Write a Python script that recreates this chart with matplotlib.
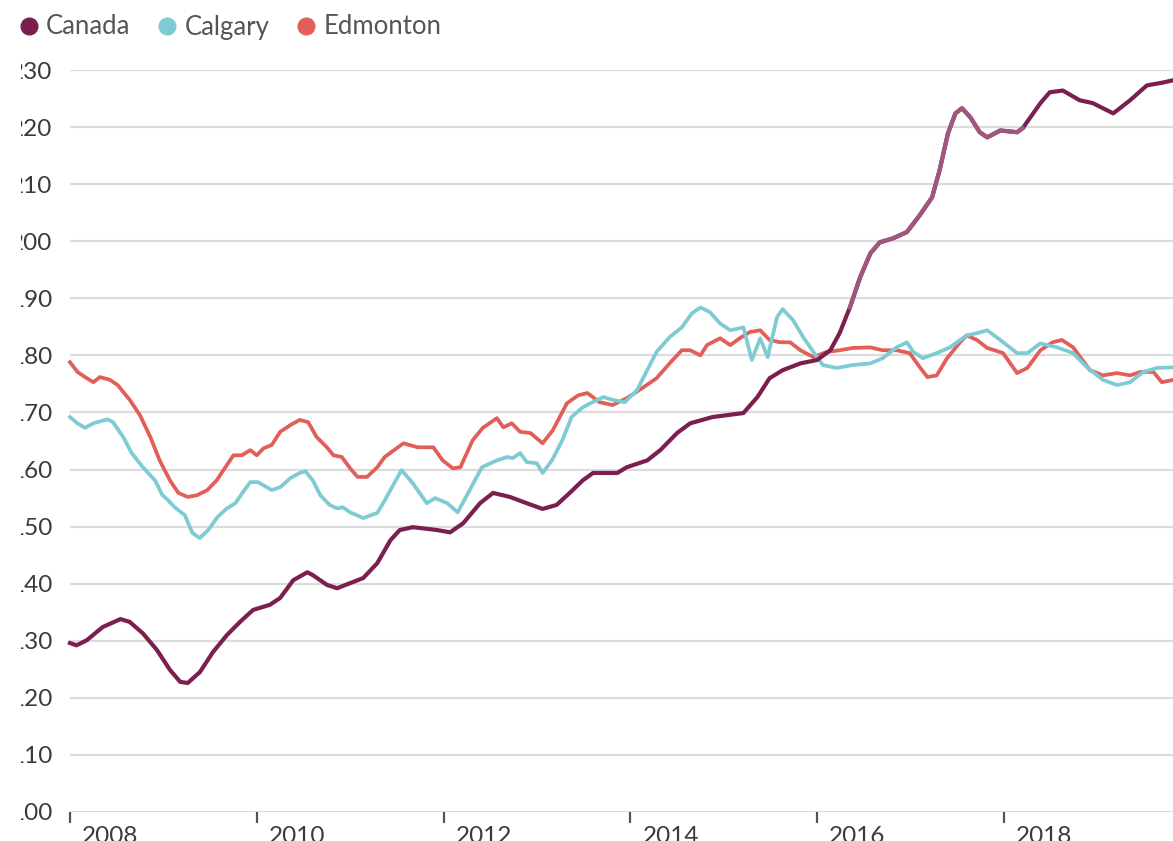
import numpy as np
import matplotlib
matplotlib.use("Agg")
import matplotlib.pyplot as plt
from matplotlib.lines import Line2D
from matplotlib.transforms import Bbox, ScaledTranslation

# (year, index)
canada = [(2008.00, 129.6), (2008.07, 129.2), (2008.18, 130.1), (2008.35, 132.4), (2008.54, 133.8),
          (2008.64, 133.3), (2008.78, 131.3), (2008.93, 128.4), (2009.07, 124.9), (2009.18, 122.8),
          (2009.26, 122.6), (2009.39, 124.5), (2009.53, 128.0), (2009.68, 131.0), (2009.82, 133.3),
          (2009.96, 135.4), (2010.14, 136.3), (2010.25, 137.5), (2010.39, 140.6), (2010.54, 142.0),
          (2010.60, 141.5), (2010.75, 139.8), (2010.86, 139.2), (2011.00, 140.1), (2011.14, 141.0),
          (2011.29, 143.6), (2011.43, 147.6), (2011.53, 149.4), (2011.67, 149.9), (2011.93, 149.4),
          (2012.07, 149.0), (2012.21, 150.6), (2012.39, 154.1), (2012.53, 155.9), (2012.71, 155.2),
          (2012.89, 154.1), (2013.06, 153.1), (2013.21, 153.8), (2013.35, 155.9), (2013.49, 158.1),
          (2013.60, 159.4), (2013.86, 159.4), (2013.96, 160.4), (2014.18, 161.6), (2014.32, 163.4),
          (2014.50, 166.4), (2014.64, 168.1), (2014.88, 169.2), (2015.21, 169.9), (2015.36, 172.7),
          (2015.49, 176.0), (2015.63, 177.4), (2015.82, 178.6), (2016.00, 179.2), (2016.14, 180.9),
          (2016.24, 183.9), (2016.35, 188.4), (2016.46, 193.7), (2016.57, 197.9), (2016.67, 199.8),
          (2016.81, 200.5), (2016.96, 201.6), (2017.10, 204.6), (2017.23, 207.7), (2017.31, 212.4),
          (2017.40, 218.9), (2017.48, 222.4), (2017.55, 223.3), (2017.64, 221.7), (2017.74, 219.1),
          (2017.82, 218.2), (2017.96, 219.4), (2018.14, 219.1), (2018.20, 219.8), (2018.39, 224.2),
          (2018.49, 226.1), (2018.63, 226.4), (2018.81, 224.7), (2018.95, 224.2), (2019.17, 222.4),
          (2019.35, 224.7), (2019.53, 227.3), (2019.70, 227.8), (2019.81, 228.2)]

calgary = [(2008.00, 169.2), (2008.08, 168.1), (2008.16, 167.3), (2008.25, 168.1), (2008.40, 168.8),
           (2008.46, 168.3), (2008.57, 165.7), (2008.66, 162.9), (2008.78, 160.4), (2008.91, 158.1),
           (2008.99, 155.5), (2009.04, 154.8), (2009.12, 153.4), (2009.23, 152.0), (2009.31, 148.9),
           (2009.39, 148.0), (2009.48, 149.4), (2009.58, 151.7), (2009.68, 153.2), (2009.77, 154.1),
           (2009.85, 156.0), (2009.93, 157.8), (2010.01, 157.8), (2010.16, 156.4), (2010.25, 156.9),
           (2010.36, 158.5), (2010.46, 159.4), (2010.52, 159.7), (2010.60, 158.1), (2010.68, 155.5),
           (2010.78, 153.8), (2010.86, 153.2), (2010.92, 153.4), (2011.00, 152.5), (2011.14, 151.5),
           (2011.29, 152.4), (2011.37, 154.6), (2011.43, 156.4), (2011.55, 159.9), (2011.67, 157.6),
           (2011.82, 154.1), (2011.91, 155.0), (2012.04, 154.1), (2012.15, 152.5), (2012.28, 156.4),
           (2012.41, 160.4), (2012.57, 161.6), (2012.68, 162.2), (2012.74, 162.0), (2012.82, 162.9),
           (2012.89, 161.3), (2013.00, 161.1), (2013.06, 159.4), (2013.16, 161.6), (2013.27, 165.1),
           (2013.37, 169.2), (2013.49, 170.9), (2013.57, 171.6), (2013.71, 172.7), (2013.81, 172.2),
           (2013.94, 171.8), (2014.07, 173.9), (2014.18, 177.4), (2014.28, 180.6), (2014.42, 183.2),
           (2014.55, 184.9), (2014.66, 187.4), (2014.75, 188.4), (2014.85, 187.6), (2014.96, 185.6),
           (2015.07, 184.4), (2015.21, 184.9), (2015.30, 179.2), (2015.39, 183.0), (2015.47, 179.7),
           (2015.57, 186.7), (2015.63, 188.1), (2015.74, 186.2), (2015.85, 183.2), (2015.96, 180.6),
           (2016.06, 178.3), (2016.21, 177.8), (2016.38, 178.3), (2016.57, 178.6), (2016.70, 179.5),
           (2016.85, 181.4), (2016.96, 182.3), (2017.03, 180.6), (2017.13, 179.5), (2017.28, 180.4),
           (2017.42, 181.4), (2017.60, 183.5), (2017.71, 183.9), (2017.82, 184.4), (2017.96, 182.7),
           (2018.14, 180.4), (2018.25, 180.4), (2018.39, 182.1), (2018.57, 181.4), (2018.74, 180.4),
           (2018.89, 177.9), (2019.06, 175.7), (2019.21, 174.8), (2019.35, 175.3), (2019.49, 177.1),
           (2019.64, 177.8), (2019.81, 177.9)]

edmonton = [(2008.00, 178.8), (2008.08, 177.1), (2008.18, 176.0), (2008.25, 175.3), (2008.32, 176.2),
            (2008.43, 175.7), (2008.51, 174.8), (2008.64, 172.2), (2008.75, 169.5), (2008.86, 165.7),
            (2008.96, 161.6), (2009.07, 158.1), (2009.16, 155.9), (2009.26, 155.2), (2009.36, 155.5),
            (2009.47, 156.4), (2009.57, 158.1), (2009.68, 160.8), (2009.75, 162.5), (2009.84, 162.5),
            (2009.93, 163.4), (2010.00, 162.5), (2010.07, 163.7), (2010.16, 164.3), (2010.25, 166.6),
            (2010.36, 167.8), (2010.46, 168.7), (2010.55, 168.3), (2010.64, 165.7), (2010.75, 163.9),
            (2010.82, 162.5), (2010.91, 162.2), (2011.00, 160.2), (2011.08, 158.7), (2011.18, 158.7),
            (2011.29, 160.4), (2011.37, 162.2), (2011.57, 164.6), (2011.72, 163.9), (2011.89, 163.9),
            (2011.99, 161.6), (2012.10, 160.2), (2012.18, 160.4), (2012.31, 165.1), (2012.42, 167.3),
            (2012.57, 169.0), (2012.64, 167.4), (2012.73, 168.1), (2012.82, 166.6), (2012.93, 166.4),
            (2013.06, 164.6), (2013.17, 166.9), (2013.32, 171.6), (2013.44, 173.0), (2013.54, 173.4),
            (2013.67, 171.8), (2013.81, 171.3), (2013.96, 172.5), (2014.13, 174.3), (2014.28, 176.0),
            (2014.42, 178.6), (2014.55, 180.9), (2014.64, 180.9), (2014.75, 180.0), (2014.82, 181.8),
            (2014.96, 183.0), (2015.07, 181.8), (2015.17, 183.0), (2015.28, 184.1), (2015.39, 184.4),
            (2015.49, 182.7), (2015.60, 182.3), (2015.71, 182.3), (2015.82, 180.9), (2015.96, 179.7),
            (2016.10, 180.6), (2016.24, 180.9), (2016.38, 181.3), (2016.57, 181.4), (2016.70, 180.9),
            (2016.85, 180.9), (2016.99, 180.4), (2017.10, 177.9), (2017.18, 176.2), (2017.28, 176.5),
            (2017.39, 179.5), (2017.53, 182.3), (2017.60, 183.5), (2017.71, 182.7), (2017.82, 181.3),
            (2017.99, 180.4), (2018.14, 176.9), (2018.25, 177.8), (2018.39, 180.9), (2018.52, 182.3),
            (2018.62, 182.7), (2018.74, 181.4), (2018.92, 177.4), (2019.06, 176.5), (2019.21, 176.9),
            (2019.35, 176.5), (2019.46, 177.1), (2019.60, 177.1), (2019.69, 175.3), (2019.81, 175.7)]

names = ["Canada", "Calgary", "Edmonton"]
colors = ["#7b1f50", "#7fcbd4", "#e15f58"]
year_ticks = [2008, 2010, 2012, 2014, 2016, 2018]
y_ticks = list(range(100, 240, 10))

plt.rcParams['font.family'] = ['Lato', 'DejaVu Sans']

W, H = 1173, 841
fig = plt.figure(figsize=(W / 100, H / 100), dpi=100)
ax = fig.add_axes([70 / W, 29 / H, 1 - 70 / W, (812 - 70) / H])

ca = np.array(canada)
cg = np.array(calgary)
ed = np.array(edmonton)

ax.plot(ed[:, 0], ed[:, 1], color=colors[2], lw=2.7, solid_joinstyle='round', clip_on=False, zorder=3)
ax.plot(cg[:, 0], cg[:, 1], color=colors[1], lw=2.7, solid_joinstyle='round', clip_on=False, zorder=4)
ax.plot(ca[:, 0], ca[:, 1], color=colors[0], lw=3.0, solid_joinstyle='round', clip_on=False, zorder=5)
# faded stretch of the Canada line
m = (ca[:, 0] >= 2016.3) & (ca[:, 0] <= 2018.35)
ax.plot(ca[m, 0], ca[m, 1], color="#a0577f", lw=3.0, solid_joinstyle='round', clip_on=False, zorder=6)

ax.set_xlim(2008.0, 2008.0 + (W - 70) / 93.4)
ax.set_ylim(100, 230)
ax.set_yticks(y_ticks)
ax.set_yticklabels([str(v) for v in y_ticks])
ax.set_xticks(year_ticks)
ax.set_xticklabels([str(y) for y in year_ticks])

for s in ax.spines.values():
    s.set_visible(False)
ax.grid(axis='y', color='#dcdcdc', lw=1.6)
ax.set_axisbelow(True)
ax.tick_params(axis='y', length=0, pad=13, labelsize=17.5, labelcolor='#3a3a3a')
ax.tick_params(axis='x', direction='out', length=8, width=1.6, color='#555555',
               pad=2, labelsize=17.5, labelcolor='#3a3a3a')

shift = ScaledTranslation(12 / 100, 0, fig.dpi_scale_trans)
for lbl in ax.get_xticklabels():
    lbl.set_horizontalalignment('left')
    lbl.set_verticalalignment('top')
    lbl.set_transform(lbl.get_transform() + shift)

# the source image is cut on the left, leaving only the edge of the first digit
fig.canvas.draw()
for lbl in ax.get_yticklabels():
    bb = lbl.get_window_extent()
    cut = bb.x0 + bb.width / 3 - 3
    lbl.set_clip_box(Bbox([[cut, 0], [W, H]]))
    lbl.set_clip_on(True)

handles = [Line2D([], [], ls='', marker='o', markersize=12, color=c) for c in colors]
fig.legend(handles, names, loc='center left', bbox_to_anchor=(19 / W, 1 - 27 / H),
           ncol=3, frameon=False, fontsize=18.5, handlelength=0.75, handletextpad=0.3,
           columnspacing=1.05, labelcolor='#555555', borderaxespad=0, borderpad=0)

fig.savefig("out.png", dpi=100)
